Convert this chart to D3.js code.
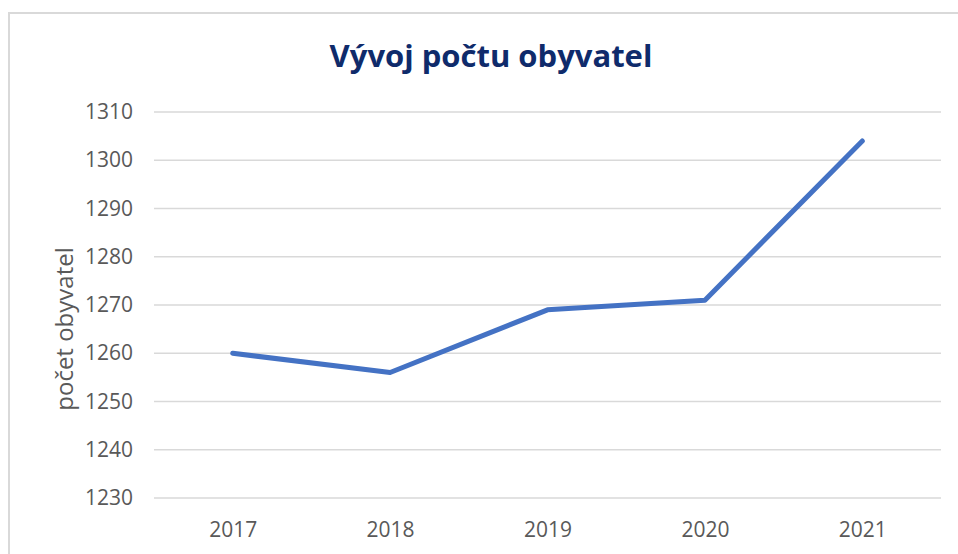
<!DOCTYPE html>
<html>
<head>
<meta charset="utf-8">
<script src="https://cdn.jsdelivr.net/npm/d3@7"></script>
<style>
  html, body { margin: 0; padding: 0; background: #fff; }
  svg { display: block; }
</style>
</head>
<body>
<div id="chart"></div>
<script>
// data
const years = ["2017", "2018", "2019", "2020", "2021"];
const population = [1260, 1256, 1269, 1271, 1304];
const yTicks = [1230, 1240, 1250, 1260, 1270, 1280, 1290, 1300, 1310];

const W = 958, H = 554;
const margin = { top: 112, right: 17, bottom: 56, left: 154 };
const width = W - margin.left - margin.right;
const height = H - margin.top - margin.bottom;

const font = "'Open Sans', 'Noto Sans', sans-serif";

const svg = d3.select("#chart").append("svg")
    .attr("width", W)
    .attr("height", H);

// chart frame
svg.append("path")
    .attr("d", `M9,${H + 5} L9,13 L${W + 5},13`)
    .attr("fill", "none")
    .attr("stroke", "#d9d9d9")
    .attr("stroke-width", 2);

const g = svg.append("g")
    .attr("transform", `translate(${margin.left},${margin.top})`);

const x = d3.scalePoint()
    .domain(years)
    .range([0, width])
    .padding(0.5);

const y = d3.scaleLinear()
    .domain([1230, 1310])
    .range([height, 0]);

// gridlines
g.append("g")
    .selectAll("line")
    .data(yTicks)
    .join("line")
    .attr("x1", 0)
    .attr("x2", width)
    .attr("y1", d => y(d))
    .attr("y2", d => y(d))
    .attr("stroke", "#d9d9d9")
    .attr("stroke-width", 1.5);

// y axis
const yAxis = g.append("g")
    .call(d3.axisLeft(y).tickValues(yTicks).tickSize(0).tickPadding(21).tickFormat(d3.format("d")));
yAxis.select(".domain").remove();
yAxis.selectAll("text")
    .attr("font-family", font)
    .attr("font-size", "21px")
    .attr("fill", "#595959");

// x axis
const xAxis = g.append("g")
    .attr("transform", `translate(0,${height})`)
    .call(d3.axisBottom(x).tickSize(0).tickPadding(24));
xAxis.select(".domain").remove();
xAxis.selectAll("text")
    .attr("font-family", font)
    .attr("font-size", "21px")
    .attr("fill", "#595959");

// line
const line = d3.line()
    .x((d, i) => x(years[i]))
    .y(d => y(d));

g.append("path")
    .datum(population)
    .attr("d", line)
    .attr("fill", "none")
    .attr("stroke", "#4472C4")
    .attr("stroke-width", 5)
    .attr("stroke-linecap", "round")
    .attr("stroke-linejoin", "round");

// title
svg.append("text")
    .attr("x", 491)
    .attr("y", 67)
    .attr("text-anchor", "middle")
    .attr("font-family", font)
    .attr("font-weight", "bold")
    .attr("font-size", "31px")
    .attr("fill", "#0f2b6b")
    .text("Vývoj počtu obyvatel");

// y axis title
svg.append("text")
    .attr("transform", "translate(73,329) rotate(-90)")
    .attr("text-anchor", "middle")
    .attr("font-family", font)
    .attr("font-size", "24px")
    .attr("fill", "#595959")
    .text("počet obyvatel");
</script>
</body>
</html>
